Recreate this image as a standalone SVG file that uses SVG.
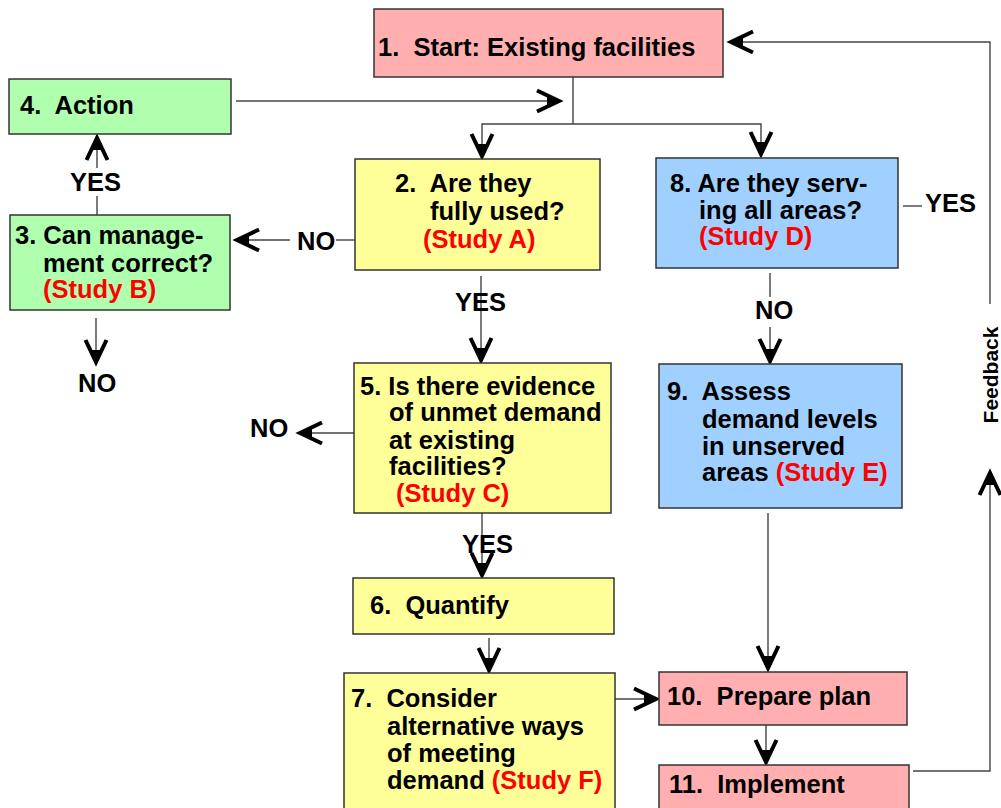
<svg xmlns="http://www.w3.org/2000/svg" width="1001" height="808" viewBox="0 0 1001 808" xml:space="preserve">
  <style>
    .box { stroke: #333; stroke-width: 1.5; }
    .pink { fill: #FFAFAF; }
    .green { fill: #AFFFAF; }
    .yellow { fill: #FFFF99; }
    .blue { fill: #A0D0FF; }
    text { font-family: "Liberation Sans", Arial, sans-serif; font-weight: bold; font-size: 25.5px; fill: #000; white-space: pre; }
    .red { fill: #FF0000; }
    .wire { fill: none; stroke: #444; stroke-width: 1.4; }
    .arrow { fill: none; stroke: #444; stroke-width: 1.4; marker-end: url(#head); }
  </style>
  <defs>
    <marker id="head" markerUnits="userSpaceOnUse" viewBox="-30 -15 34 30" markerWidth="34" markerHeight="30" refX="0" refY="0" orient="auto">
      <path d="M-24,-10.5 L-2,0 L-24,10.5" fill="none" stroke="#000" stroke-width="4" stroke-linejoin="miter"/>
      <path d="M0,0 L-14,-4.5 L-14,4.5 z" fill="#000"/>
    </marker>
  </defs>

  <!-- connectors -->
  <g id="connectors">
    <!-- Action back into the loop -->
    <line class="arrow" x1="236" y1="101" x2="561" y2="101"/>
    <!-- Start splits to questions 2 and 8 -->
    <polyline class="wire" points="573,77 573,124"/>
    <polyline class="arrow" points="573,124 482,124 482,158"/>
    <polyline class="arrow" points="573,124 761,124 761,156"/>
    <!-- 2 NO -> 3 -->
    <line class="wire" x1="355" y1="240" x2="336" y2="240"/>
    <line class="arrow" x1="290" y1="240" x2="235" y2="240"/>
    <!-- 3 YES -> 4 -->
    <line class="wire" x1="97" y1="215" x2="97" y2="196"/>
    <line class="arrow" x1="97" y1="168" x2="97" y2="136"/>
    <!-- 3 NO -->
    <line class="arrow" x1="96" y1="318" x2="96" y2="364"/>
    <!-- 2 YES -> 5 -->
    <line class="arrow" x1="481" y1="276" x2="481" y2="362"/>
    <!-- 5 NO -->
    <line class="arrow" x1="354" y1="433" x2="298" y2="433"/>
    <!-- 5 YES -> 6 -->
    <line class="arrow" x1="482" y1="513" x2="482" y2="577"/>
    <!-- 6 -> 7 -->
    <line class="arrow" x1="489" y1="638" x2="489" y2="672"/>
    <!-- 7 -> 10 -->
    <line class="arrow" x1="614" y1="699" x2="658" y2="699"/>
    <!-- 8 YES -->
    <line class="wire" x1="903" y1="206" x2="922" y2="206"/>
    <!-- 8 NO -> 9 -->
    <line class="wire" x1="770" y1="273" x2="770" y2="297"/>
    <line class="arrow" x1="770" y1="327" x2="770" y2="363"/>
    <!-- 9 -> 10 -->
    <line class="arrow" x1="768" y1="513" x2="768" y2="670"/>
    <!-- 10 -> 11 -->
    <line class="arrow" x1="766" y1="725" x2="766" y2="764"/>
    <!-- feedback loop 11 -> 1 -->
    <polyline class="arrow" points="913,771 990,771 990,471"/>
    <polyline class="arrow" points="990,304 990,42 729,42"/>
    <!-- branch labels -->
    <text x="297" y="250">NO</text>
    <text x="70" y="191">YES</text>
    <text x="78" y="392">NO</text>
    <text x="455" y="311">YES</text>
    <text x="250" y="437">NO</text>
    <text x="462" y="553">YES</text>
    <text x="925" y="212">YES</text>
    <text x="755" y="319">NO</text>
    <text transform="translate(998,375) rotate(-90)" text-anchor="middle" style="font-size:21px">Feedback</text>
  </g>

  <g id="n1">
    <rect class="box pink" x="374" y="9" width="349" height="68"/>
    <text x="378" y="56">1.  Start: Existing facilities</text>
  </g>
  <g id="n4">
    <rect class="box green" x="9" y="79" width="222" height="55"/>
    <text x="20" y="114">4.  Action</text>
  </g>
  <g id="n3">
    <rect class="box green" x="10" y="215" width="220" height="95"/>
    <text x="15" y="244">3. Can manage-</text>
    <text x="43" y="272">ment correct?</text>
    <text x="43" y="298" class="red">(Study B)</text>
  </g>
  <g id="n2">
    <rect class="box yellow" x="355" y="159" width="245" height="111"/>
    <text x="395" y="192">2.  Are they</text>
    <text x="430" y="220">fully used?</text>
    <text x="423" y="248" class="red">(Study A)</text>
  </g>
  <g id="n8">
    <rect class="box blue" x="656" y="158" width="242" height="110"/>
    <text x="670" y="192">8. Are they serv-</text>
    <text x="699" y="219">ing all areas?</text>
    <text x="699" y="245" class="red">(Study D)</text>
  </g>
  <g id="n5">
    <rect class="box yellow" x="354" y="363" width="257" height="150"/>
    <text x="360" y="395">5. Is there evidence</text>
    <text x="389" y="421">of unmet demand</text>
    <text x="389" y="449">at existing</text>
    <text x="389" y="475">facilities?</text>
    <text x="396" y="502" class="red">(Study C)</text>
  </g>
  <g id="n9">
    <rect class="box blue" x="659" y="364" width="243" height="144"/>
    <text x="667" y="400">9.  Assess</text>
    <text x="702" y="428">demand levels</text>
    <text x="702" y="455">in unserved</text>
    <text x="702" y="481">areas <tspan class="red">(Study E)</tspan></text>
  </g>
  <g id="n6">
    <rect class="box yellow" x="353" y="578" width="261" height="56"/>
    <text x="370" y="614">6.  Quantify</text>
  </g>
  <g id="n7">
    <rect class="box yellow" x="344" y="673" width="271" height="150"/>
    <text x="351" y="707">7.  Consider</text>
    <text x="387" y="735">alternative ways</text>
    <text x="387" y="762">of meeting</text>
    <text x="387" y="789">demand <tspan class="red">(Study F)</tspan></text>
  </g>
  <g id="n10">
    <rect class="box pink" x="659" y="672" width="248" height="53"/>
    <text x="667" y="705">10.  Prepare plan</text>
  </g>
  <g id="n11">
    <rect class="box pink" x="659" y="765" width="250" height="60"/>
    <text x="669" y="793">11.  Implement</text>
  </g>
</svg>
